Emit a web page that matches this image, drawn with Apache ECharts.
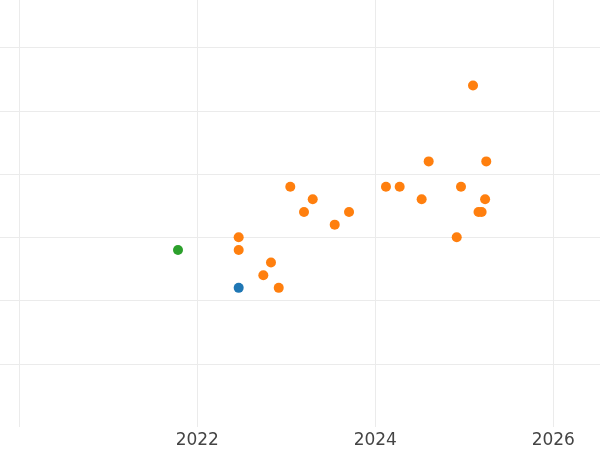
<!DOCTYPE html>
<html>
<head>
<meta charset="utf-8">
<script src="https://cdn.jsdelivr.net/npm/echarts@6/dist/echarts.min.js"></script>
<style>html,body{margin:0;padding:0;background:#fff}#c{width:600px;height:450px}</style>
</head>
<body>
<div id="c"></div>
<script>
// decimal-year x, value y
const blueX = [2022.465];
const blueY = [6];
const orangeX = [2025.098, 2024.600, 2025.247, 2023.045, 2024.120, 2024.274, 2024.963,
  2023.297, 2024.521, 2025.234, 2023.199, 2023.705, 2025.160, 2025.195, 2023.544,
  2022.465, 2024.915, 2022.465, 2022.828, 2022.742, 2022.915];
const orangeY = [22, 16, 16, 14, 14, 14, 14,
  13, 13, 13, 12, 12, 12, 12, 11,
  10, 10, 9, 8, 7, 6];
const greenX = [2021.783];
const greenY = [9];
const xRange = [2019.783, 2026.525];
const yRange = [-5, 28.76];

const zip = (xs, ys) => xs.map((x, i) => [x, ys[i]]);
const chart = echarts.init(document.getElementById('c'), null, {renderer: 'canvas'});
const grid = '#ebebeb';
chart.setOption({
  animation: false,
  backgroundColor: '#ffffff',
  grid: {left: 0, right: 0, top: 0, bottom: 23, outerBoundsMode: 'none', containLabel: false},
  xAxis: {
    type: 'value', min: xRange[0], max: xRange[1], splitNumber: 3,
    axisLine: {show: false}, axisTick: {show: false},
    axisLabel: {
      show: true, showMinLabel: false, showMaxLabel: false, margin: 5,
      color: '#444', fontSize: 17, fontFamily: 'DejaVu Sans',
      formatter: v => (Number.isInteger(v) && v > 2021) ? String(v) : ''
    },
    splitLine: {show: true, showMinLine: false, showMaxLine: false, lineStyle: {color: grid, width: 1}}
  },
  yAxis: {
    type: 'value', min: yRange[0], max: yRange[1], interval: 5,
    axisLine: {show: false}, axisTick: {show: false}, axisLabel: {show: false},
    splitLine: {show: true, showMinLine: false, showMaxLine: false, lineStyle: {color: grid, width: 1}}
  },
  series: [
    {type: 'scatter', data: zip(blueX, blueY), symbolSize: 10, itemStyle: {color: '#1f77b4', opacity: 1}},
    {type: 'scatter', data: zip(orangeX, orangeY), symbolSize: 10, itemStyle: {color: '#ff7f0e', opacity: 1}},
    {type: 'scatter', data: zip(greenX, greenY), symbolSize: 10, itemStyle: {color: '#2ca02c', opacity: 1}}
  ]
});
</script>
</body>
</html>
